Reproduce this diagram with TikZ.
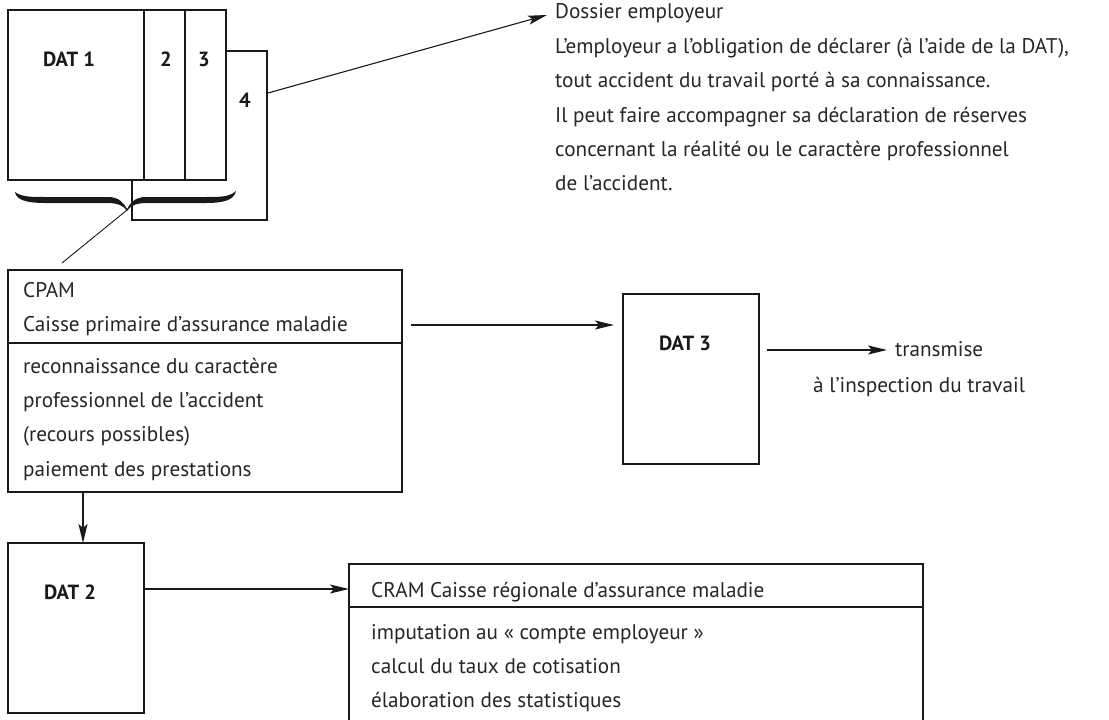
\documentclass[tikz,border=0pt]{standalone}
\usepackage{fontspec}
\setmainfont{PT Sans}
\usetikzlibrary{arrows.meta,calc}
\begin{document}
\begin{tikzpicture}[x=1pt,y=-1pt,
  box/.style={draw=black!90, line width=1.1pt, fill=white, inner sep=0pt, outer sep=0pt, anchor=north west},
  txt/.style={font=\fontsize{21.2}{26}\selectfont, anchor=base west, inner sep=0pt, text=black!85},
  lbl/.style={font=\bfseries\fontsize{20.5}{24}\selectfont, anchor=base, inner sep=0pt, text=black!90},
  arr/.style={draw=black!90, line width=1.1pt, -{Stealth[length=19pt,width=9pt,inset=4pt]}},
  thinline/.style={draw=black!90, line width=0.9pt}]
\useasboundingbox (0,0) rectangle (1109,720);
% stacked DAT sheets
\node[box, minimum width=135pt, minimum height=169pt] (d4) at (132,51) {};
\node[box, minimum width=136pt, minimum height=170pt] (d1) at (8,10) {};
\node[box, minimum width=41pt, minimum height=170pt] (d2) at (144,10) {};
\node[box, minimum width=41pt, minimum height=170pt] (d3) at (185,10) {};
\node[lbl] (l1) at (69,66) {DAT 1};
\node[lbl] (l2) at (166,66) {2};
\node[lbl] (l3) at (204,66) {3};
\node[lbl] (l4) at (245,107) {4};
% brace
\fill[black!90] (15,192) .. controls (22,197) and (30,197) .. (45,197) -- (108,197)
  .. controls (119,197) and (124,203) .. (127,209)
  .. controls (130,203) and (135,197) .. (146,197) -- (206,197)
  .. controls (221,197) and (229,197) .. (236,191)
  .. controls (234,200) and (224,203) .. (206,203) -- (146,203)
  .. controls (136,203) and (130,206) .. (127,211)
  .. controls (124,206) and (118,203) .. (108,203) -- (45,203)
  .. controls (27,203) and (16,200) .. (15,192) -- cycle;
\coordinate (tip) at (127,210);
\coordinate (tail) at (62,263);
\draw[thinline] (tip) -- (tail);
% Dossier employeur
\node[txt] (t1) at (555,18) {Dossier employeur};
\node[txt] (t2) at (555,53) {L’employeur a l’obligation de déclarer (à l’aide de la DAT),};
\node[txt] (t3) at (555,87) {tout accident du travail porté à sa connaissance.};
\node[txt] (t4) at (555,122) {Il peut faire accompagner sa déclaration de réserves};
\node[txt] (t5) at (555,156) {concernant la réalité ou le caractère professionnel};
\node[txt] (t6) at (555,190) {de l’accident.};
\coordinate (s4) at (268,93);
\draw[arr] (s4) -- (547,15);
% CPAM
\node[box, minimum width=394pt, minimum height=222pt] (cpam) at (8,270) {};
\draw[thinline, line width=1.1pt] (8,343) -- (402,343);
\node[txt] (c1) at (23,297) {CPAM};
\node[txt] (c2) at (23,331) {Caisse primaire d’assurance maladie};
\node[txt] (c3) at (23,373) {reconnaissance du caractère};
\node[txt] (c4) at (23,407) {professionnel de l’accident};
\node[txt] (c5) at (23,441) {(recours possibles)};
\node[txt] (c6) at (23,476) {paiement des prestations};
% DAT 3
\node[box, minimum width=136pt, minimum height=170pt] (dat3) at (623,294) {};
\node[lbl] (l5) at (685,350) {DAT 3};
\draw[arr] (411,325) -- (dat3.west |- 0,325) [shorten >=9pt];
\node[txt] (tr1) at (895,356) {transmise};
\node[txt] (tr2) at (813,392) {à l’inspection du travail};
\draw[arr] (767,350) -- (887,350);
% DAT 2
\node[box, line width=1.4pt, minimum width=136pt, minimum height=170pt] (dat2) at (8,543) {};
\node[lbl] (l6) at (70,599) {DAT 2};
\draw[arr, line width=1.7pt] (83,492) -- (83,543);
% CRAM
\node[box, minimum width=574pt, minimum height=170pt] (cram) at (349,564) {};
\draw[thinline, line width=1.1pt] (349,607) -- (923,607);
\node[txt] (r1) at (371,597) {CRAM Caisse régionale d’assurance maladie};
\node[txt] (r2) at (371,639) {imputation au « compte employeur »};
\node[txt] (r3) at (371,673) {calcul du taux de cotisation};
\node[txt] (r4) at (371,707) {élaboration des statistiques};
\draw[arr, line width=1.5pt] (dat2.east |- 0,589) -- (cram.west |- 0,589);
\end{tikzpicture}
\end{document}
